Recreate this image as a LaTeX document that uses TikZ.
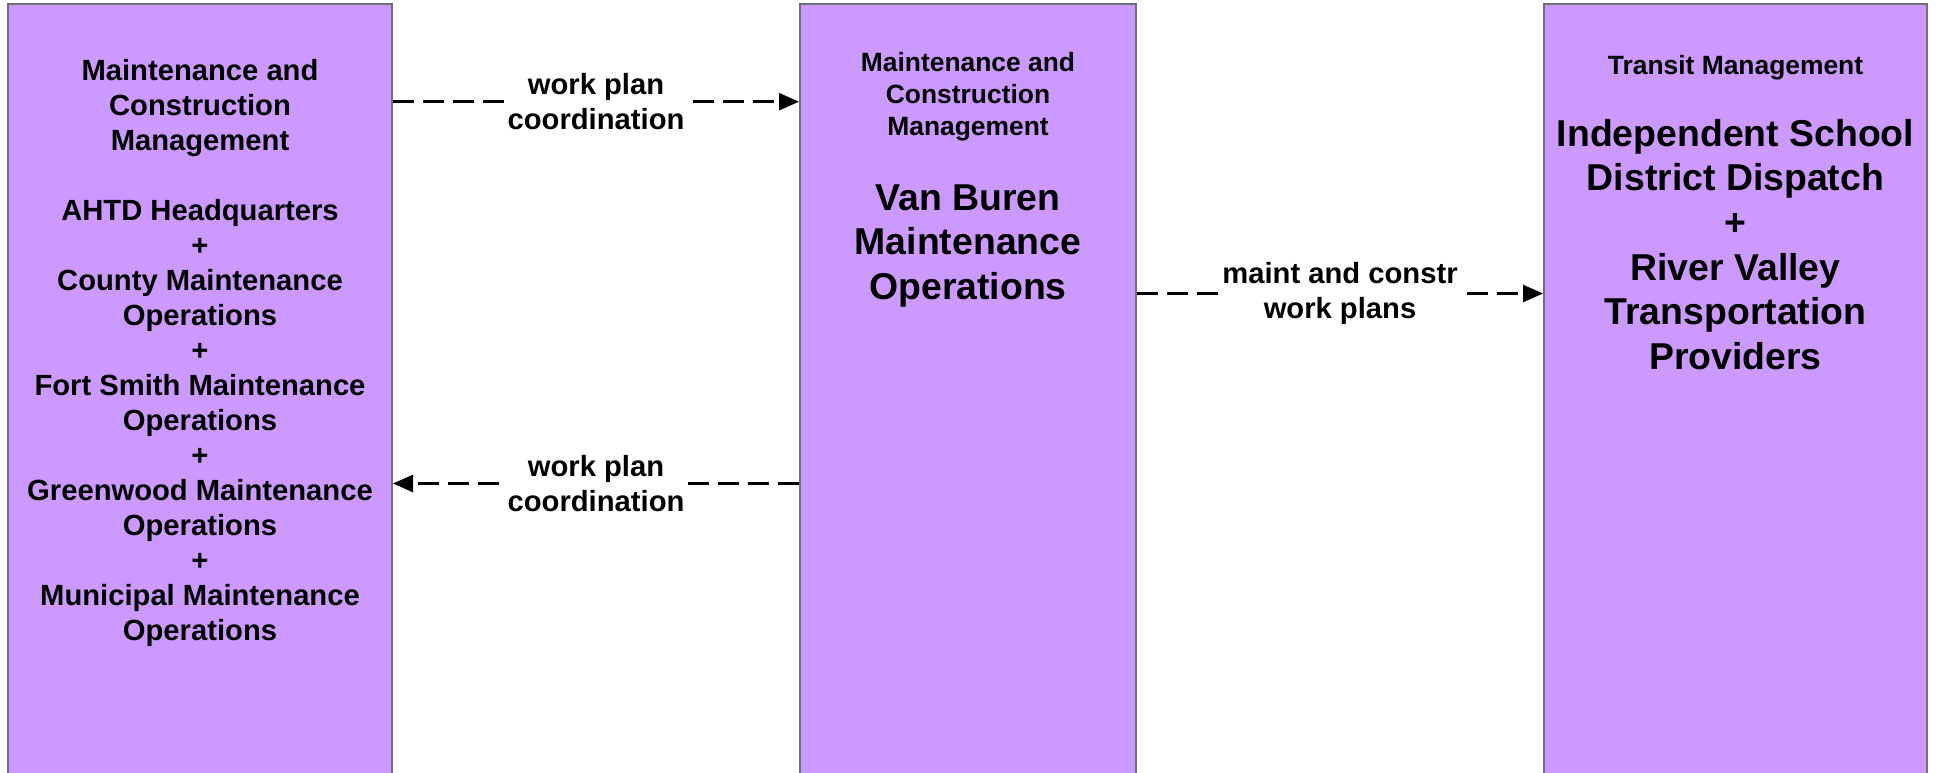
\documentclass[tikz,border=0pt]{standalone}
\usepackage{fontspec}
\setmainfont{Liberation Sans}
\usetikzlibrary{arrows.meta}
\definecolor{boxfill}{HTML}{CC99FF}
\definecolor{boxline}{HTML}{6F6F78}
\begin{document}
\begin{tikzpicture}[x=0.5pt,y=-0.5pt,
  sysbox/.style={draw=boxline, fill=boxfill, line width=1pt, inner sep=0pt, minimum height=398pt},
  txt/.style={align=center, font=\bfseries\fontsize{14.6}{17.5}\selectfont, inner sep=0pt},
  hdr/.style={align=center, font=\bfseries\fontsize{13.2}{16}\selectfont, inner sep=0pt},
  big/.style={align=center, font=\bfseries\fontsize{18.7}{22.3}\selectfont, inner sep=0pt},
  flow/.style={draw=black, line width=1.3pt, dash pattern=on 10.5pt off 4.5pt, -{Triangle[length=10pt,width=8.5pt]}},
  flowlbl/.style={fill=white, inner sep=1pt, align=center, font=\bfseries\fontsize{14.6}{17.3}\selectfont}]

\useasboundingbox (0,0) rectangle (1937,772);
\clip (0,0) rectangle (1937,772);

% boxes
\node[sysbox, minimum width=192pt] (L) at (200,402) {};
\node[sysbox, minimum width=168pt] (M) at (968,402) {};
\node[sysbox, minimum width=191.5pt] (R) at (1735.5,402) {};

% texts
\node[txt] (Ltxt) at (200,352.5) {Maintenance and\\Construction\\Management\\[17.5pt]AHTD Headquarters\\+\\County Maintenance\\Operations\\+\\Fort Smith Maintenance\\Operations\\+\\Greenwood Maintenance\\Operations\\+\\Municipal Maintenance\\Operations};

\node[hdr] (Mhdr) at (968,96.5) {Maintenance and\\Construction\\Management};
\node[big] (Mbig) at (968,245.8) {Van Buren\\Maintenance\\Operations};

\node[hdr] (Rhdr) at (1735.5,68) {Transit Management};
\node[big] (Rbig) at (1735.5,244.5) {Independent School\\District Dispatch\\+\\River Valley\\Transportation\\Providers};

% flows
\coordinate (y1) at (0,101.7);
\coordinate (y2) at (0,483.5);
\coordinate (y3) at (0,293.5);

\draw[flow] (L.east |- y1) -- node[flowlbl] {work plan\\coordination} (M.west |- y1);
\draw[flow] (M.west |- y2) -- node[flowlbl] {work plan\\coordination} (L.east |- y2);
\draw[flow] (M.east |- y3) -- node[flowlbl] {maint and constr\\work plans} (R.west |- y3);
\end{tikzpicture}
\end{document}
